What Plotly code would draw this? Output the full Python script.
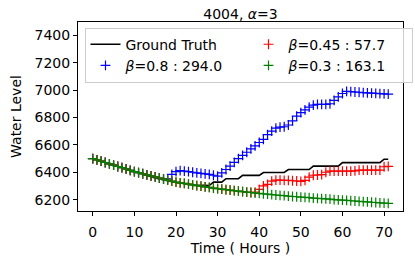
import plotly.graph_objects as go

hours = list(range(72))

ground_truth = [6500, 6490, 6481, 6471, 6461, 6452, 6442, 6433, 6424, 6414, 6405,
                6397, 6389, 6378, 6368, 6358, 6350, 6342, 6336, 6330, 6325,
                6320, 6316, 6312, 6309, 6306, 6304, 6302, 6303, 6328, 6328,
                6328, 6353, 6353, 6353, 6353, 6377, 6377, 6377, 6377, 6377,
                6398, 6398, 6398, 6398, 6398, 6398, 6420, 6420, 6420, 6420,
                6420, 6420, 6445, 6445, 6445, 6445, 6445, 6445, 6445, 6470,
                6470, 6470, 6470, 6470, 6470, 6470, 6470, 6470, 6470, 6495, 6495]

beta_08 = [6500, 6490, 6481, 6471, 6461, 6452, 6442, 6433, 6424, 6414, 6405,
           6397, 6389, 6381, 6374, 6366, 6358, 6350, 6352, 6385, 6405,
           6412, 6408, 6404, 6400, 6396, 6392, 6388, 6384, 6378, 6372,
           6395, 6420, 6445, 6472, 6499, 6523, 6546, 6570, 6593, 6617,
           6640, 6675, 6700, 6722, 6730, 6732, 6745, 6775, 6810, 6835,
           6855, 6875, 6890, 6895, 6895, 6895, 6900, 6925, 6950, 6975,
           6990, 6988, 6986, 6984, 6982, 6980, 6978, 6976, 6974, 6972, 6970]

beta_045 = [6500, 6490, 6481, 6471, 6461, 6452, 6442, 6433, 6424, 6414, 6405,
            6397, 6389, 6381, 6374, 6366, 6358, 6350, 6343, 6335, 6328,
            6323, 6318, 6313, 6308, 6303, 6298, 6293, 6289, 6284, 6280,
            6276, 6273, 6269, 6266, 6262, 6259, 6255, 6252, 6255, 6275,
            6300, 6312, 6335, 6342, 6342, 6341, 6340, 6338, 6336, 6334,
            6340, 6365, 6378, 6380, 6382, 6400, 6408, 6408, 6408, 6408,
            6408, 6408, 6410, 6415, 6415, 6415, 6415, 6415, 6415, 6440, 6443]

beta_03 = [6500, 6490, 6481, 6471, 6461, 6452, 6442, 6433, 6424, 6414, 6405,
           6397, 6389, 6381, 6374, 6366, 6358, 6350, 6343, 6335, 6328,
           6323, 6318, 6313, 6308, 6303, 6298, 6293, 6289, 6284, 6280,
           6276, 6273, 6269, 6266, 6262, 6259, 6255, 6252, 6248, 6245,
           6242, 6240, 6237, 6234, 6231, 6229, 6226, 6223, 6221, 6218,
           6216, 6214, 6211, 6209, 6207, 6205, 6203, 6200, 6198, 6196,
           6194, 6192, 6190, 6188, 6186, 6183, 6181, 6179, 6177, 6175, 6172]

names = ["Ground Truth", "<i>β</i>=0.8 : 294.0", "<i>β</i>=0.45 : 57.7", "<i>β</i>=0.3 : 163.1"]
x_ticks = [0, 10, 20, 30, 40, 50, 60, 70]
y_ticks = [6200, 6400, 6600, 6800, 7000, 7200, 7400]

fig = go.Figure()
fig.add_trace(go.Scatter(x=hours, y=ground_truth, mode="lines", name=names[0],
                         line=dict(color="black", width=1.6), legendrank=1))

def cross_trace(y, name, color, rank):
    return go.Scatter(x=hours, y=y, mode="markers", name=name, legendrank=rank,
                      marker=dict(symbol="cross-thin", size=7,
                                  line=dict(color=color, width=1.2), color=color))

fig.add_trace(cross_trace(beta_08, names[1], "#0000ff", 3))
fig.add_trace(cross_trace(beta_045, names[2], "#ff0000", 2))
fig.add_trace(cross_trace(beta_03, names[3], "#008000", 4))

axis_common = dict(showline=True, mirror=True, linecolor="black", linewidth=1,
                   ticks="outside", ticklen=4, tickcolor="black", showgrid=False,
                   zeroline=False, automargin=False,
                   tickfont=dict(size=14, color="black"))

fig.update_layout(
    width=415, height=264,
    margin=dict(l=78, r=12, t=22, b=53, autoexpand=False),
    paper_bgcolor="white", plot_bgcolor="white",
    font=dict(family="DejaVu Sans", color="black"),
    title=dict(text="4004, <i>α</i>=3", xref="paper", x=0.5, xanchor="center",
               yref="container", y=0.945, yanchor="middle",
               font=dict(size=14)),
    xaxis=dict(range=[-3.55, 74.55], tickvals=x_ticks, ticklabelstandoff=4,
               title=dict(text="Time ( Hours )", font=dict(size=14), standoff=3),
               **axis_common),
    yaxis=dict(range=[6117, 7497], tickvals=y_ticks,
               title=dict(text="Water Level", font=dict(size=14), standoff=9),
               **axis_common),
    legend=dict(orientation="h", x=0.02, y=0.97, xanchor="left", yanchor="top",
                entrywidth=118, font=dict(size=14),
                bgcolor="rgba(255,255,255,0.8)", bordercolor="#cccccc", borderwidth=1),
    showlegend=True,
)

fig.write_html("out.html", config={"displayModeBar": False},
               post_script="document.body.style.margin='0';")
